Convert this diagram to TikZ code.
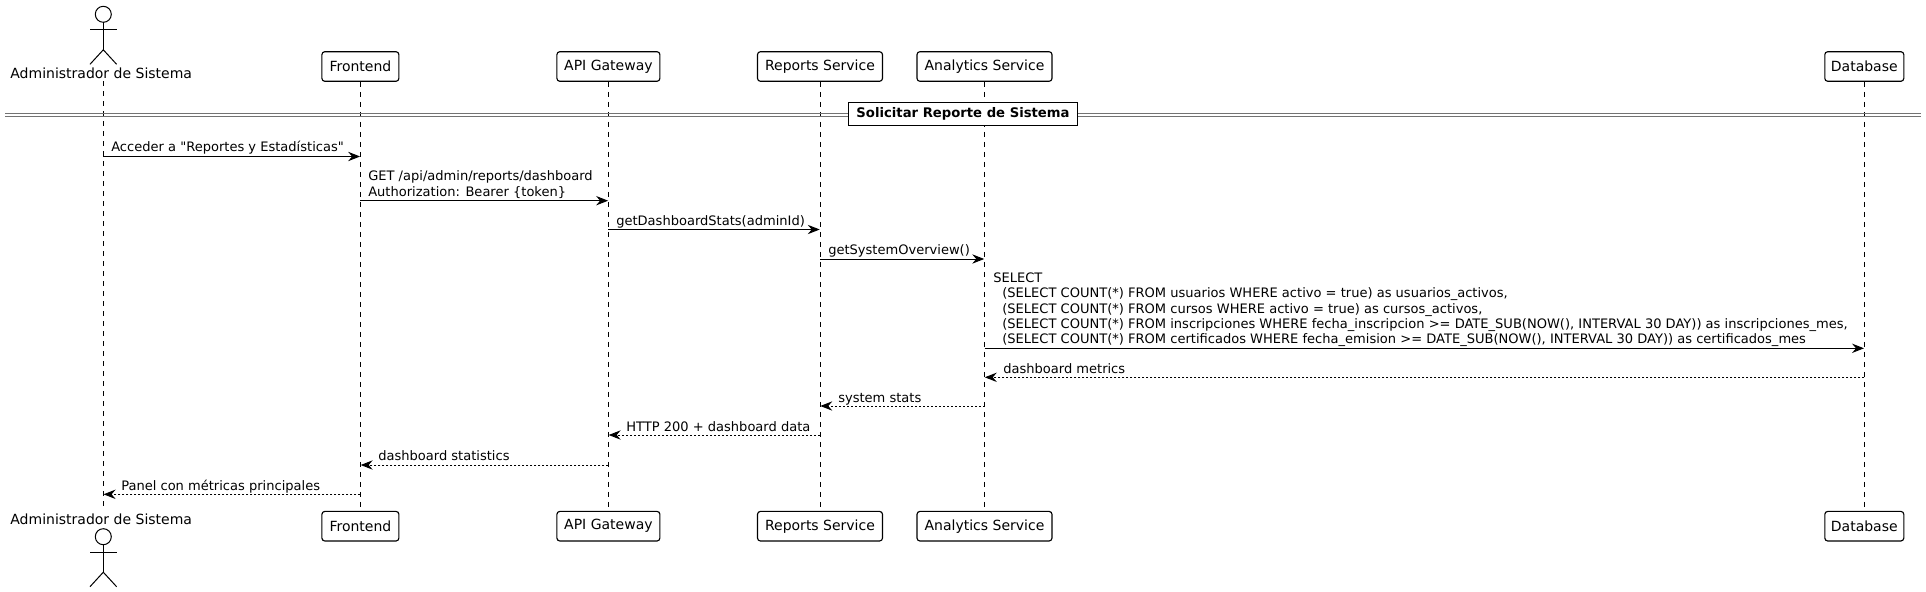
\documentclass[tikz,border=0pt]{standalone}
\usepackage{fontspec}
\setmainfont{DejaVu Sans}[Ligatures=TeXOff]
\usetikzlibrary{arrows.meta}
\tikzset{
  x=0.75pt,y=-0.75pt,
  participant/.style={draw=black,line width=0.85pt,fill=white,rounded corners=2.2pt,minimum height=22.2pt,inner sep=0pt,font=\fontsize{10.5}{12.5}\selectfont},
  actorname/.style={font=\fontsize{10.5}{12.5}\selectfont,inner sep=0pt,anchor=base},
  lifeline/.style={draw=black,line width=0.75pt,dash pattern=on 3.75pt off 3.75pt},
  stick/.style={draw=black,line width=0.75pt},
  msg/.style={draw=black,line width=0.75pt,-{Stealth[length=9pt,width=7pt,inset=3pt]},shorten >=0.2pt},
  reply/.style={msg,dash pattern=on 1.5pt off 1.5pt},
  msglabel/.style={font=\fontsize{9.78}{11.4}\selectfont,inner sep=0pt,anchor=base west,align=left},
  divline/.style={draw=black!55,line width=0.75pt},
  divtitle/.style={draw=black,line width=0.9pt,fill=white,font=\fontsize{9.9}{12}\selectfont\bfseries,inner sep=0pt,minimum height=17.25pt}
}
\begin{document}
\begin{tikzpicture}
\useasboundingbox (0,0) rectangle (1926,592);
% participants
\node[actorname] (atop) at (101.2,79) {Administrador de Sistema};
\node[actorname] (abot) at (101.2,524) {Administrador de Sistema};
\coordinate (aT) at (103.3,81.3);
\coordinate (aB) at (103.3,511);
\foreach \n/\t/\xx/\w in {f/Frontend/360.4/77,g/API Gateway/608.4/103,r/Reports Service/820/125,n/Analytics Service/984.5/135,d/Database/1864.3/79}{
  \node[participant,minimum width=\w*0.75pt] (\n T) at (\xx,66.5) {\t};
  \node[participant,minimum width=\w*0.75pt] (\n B) at (\xx,526.2) {\t};
}
% lifelines
\draw[lifeline] (aT) -- (aB);
\foreach \n in {f,g,r,n,d}{\draw[lifeline] (\n T) -- (\n B);}
% actor figures
\foreach \o in {14.3,536.7}{
  \draw[stick] (103.3,\o) ellipse (8 and 8);
  \draw[stick] (103.3,\o+8) -- (103.3,\o+35.5);
  \draw[stick] (90,\o+15.7) -- (116.6,\o+15.7);
  \draw[stick] (90,\o+50) -- (103.3,\o+35.5) -- (116.6,\o+50);
}
% divider
\coordinate (dl) at (5,113.2);\coordinate (dr) at (1921,113.2);
\coordinate (el) at (5,116);\coordinate (er) at (1921,116);
\draw[divline] (dl) -- (dr);
\draw[divline] (el) -- (er);
\node[divtitle,minimum width=229.4*0.75pt] (title) at (963,113.8) {Solicitar Reporte de Sistema\hspace{4.5pt}};
% messages
\foreach \c/\xx/\yy in {a/103.3/156.5,b/360.4/156.5,c/360.4/200.7,e/608.4/200.7,h/608.4/229.5,i/820/229.5,j/820/259,k/984.5/259,l/984.5/348.3,m/1864.3/348.3,o/1864.3/377.3,p/984.5/377.3,q/984.5/406,s/820/406,t/820/435,u/608.4/435,v/608.4/465,w/360.4/465,x/360.4/494.3,y/103.3/494.3}{
  \coordinate (\c) at (\xx,\yy);
}
\draw[msg] (a) -- (b);
\draw[msg] (c) -- (e);
\draw[msg] (h) -- (i);
\draw[msg] (j) -- (k);
\draw[msg] (l) -- (m);
\draw[reply] (o) -- (p);
\draw[reply] (q) -- (s);
\draw[reply] (t) -- (u);
\draw[reply] (v) -- (w);
\draw[reply] (x) -- (y);
% labels
\node[msglabel] (la) at (111,151) {Acceder a "Reportes y Estadísticas"};
\node[msglabel] (lc) at (368,196) {GET /api/admin/reports/dashboard\\Authorization: Bearer \{token\}};
\node[msglabel] (lh) at (616,225) {getDashboardStats(adminId)};
\node[msglabel] (lj) at (828,254) {getSystemOverview()};
\node[msglabel] (ll) at (993,343.5) {SELECT\\\hspace*{6.8pt}(SELECT COUNT(*) FROM usuarios WHERE activo = true) as usuarios\_activos,\\\hspace*{6.8pt}(SELECT COUNT(*) FROM cursos WHERE activo = true) as cursos\_activos,\\\hspace*{6.8pt}(SELECT COUNT(*) FROM inscripciones WHERE fecha\_inscripcion >= DATE\_SUB(NOW(), INTERVAL 30 DAY)) as inscripciones\_mes,\\\hspace*{6.8pt}(SELECT COUNT(*) FROM certificados WHERE fecha\_emision >= DATE\_SUB(NOW(), INTERVAL 30 DAY)) as certificados\_mes};
\node[msglabel] (lo) at (1003,373) {dashboard metrics};
\node[msglabel] (lq) at (838,402) {system stats};
\node[msglabel] (lt) at (626,431) {HTTP 200 + dashboard data};
\node[msglabel] (lv) at (378,460) {dashboard statistics};
\node[msglabel] (lx) at (121,490) {Panel con métricas principales};
\end{tikzpicture}
\end{document}
